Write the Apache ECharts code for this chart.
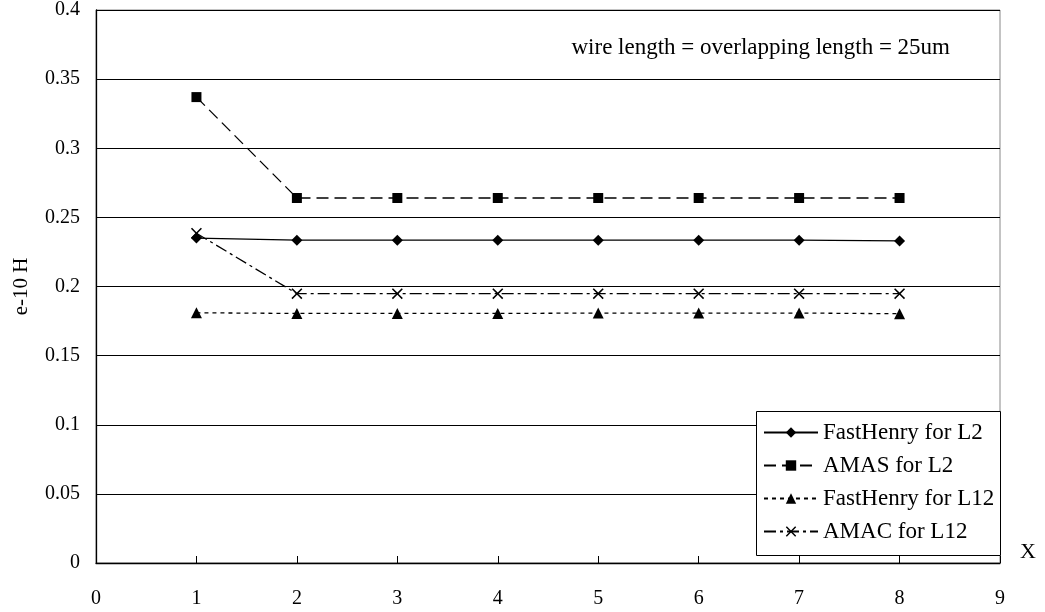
<!DOCTYPE html>
<html>
<head>
<meta charset="utf-8">
<script src="https://cdn.jsdelivr.net/npm/echarts@6/dist/echarts.min.js"></script>
<style>
  html, body { margin: 0; padding: 0; background: #fff; }
  #chart { width: 1045px; height: 612px; }
</style>
</head>
<body>
<div id="chart"></div>
<script>
const xValues = [1, 2, 3, 4, 5, 6, 7, 8]
const fastHenryL2 = [0.235, 0.2335, 0.2335, 0.2335, 0.2335, 0.2335, 0.2335, 0.233]
const amasL2 = [0.337, 0.264, 0.264, 0.264, 0.264, 0.264, 0.264, 0.264]
const fastHenryL12 = [0.181, 0.1805, 0.1805, 0.1805, 0.1808, 0.1808, 0.1808, 0.1803]
const amacL12 = [0.2385, 0.1948, 0.1948, 0.1948, 0.1948, 0.1948, 0.1948, 0.1948]

const font = 'Liberation Serif'
const crossPath = 'path://M0,1L1,0L5,4L9,0L10,1L6,5L10,9L9,10L5,6L1,10L0,9L4,5Z'

function pairs(ys) {
  return xValues.map((x, i) => [x, ys[i]])
}

function makeSeries(name, ys, symbol, size, dash) {
  return {
    name: name,
    type: 'line',
    data: pairs(ys),
    symbol: symbol,
    symbolSize: size,
    itemStyle: { color: '#000' },
    lineStyle: { color: '#000', width: 1.3, type: dash },
    emphasis: { disabled: true },
    animation: false
  }
}

const chart = echarts.init(document.getElementById('chart'))
const option = {
  backgroundColor: '#fff',
  textStyle: { fontFamily: font },
  grid: {
    left: 96,
    right: 45,
    top: 10,
    bottom: 49,
    show: true,
    borderColor: '#888',
    borderWidth: 1
  },
  title: {
    text: 'wire length = overlapping length = 25um',
    right: 95,
    top: 36,
    padding: 0,
    textStyle: { fontFamily: font, fontSize: 23, fontWeight: 'normal', color: '#000' }
  },
  // legend frame
  graphic: [{
    type: 'rect',
    left: 756,
    top: 411,
    shape: { width: 244, height: 144 },
    style: { fill: '#fff', stroke: '#000', lineWidth: 1 },
    z: 5
  }],
  legend: {
    orient: 'vertical',
    left: 763,
    top: 421,
    padding: 0,
    itemGap: 10,
    itemWidth: 54,
    itemHeight: 13,
    z: 10,
    textStyle: { fontFamily: font, fontSize: 23, color: '#000' },
    data: ['FastHenry for L2', 'AMAS for L2', 'FastHenry for L12', 'AMAC for L12']
  },
  xAxis: {
    type: 'value',
    min: 0,
    max: 9,
    interval: 1,
    name: 'X',
    nameLocation: 'end',
    nameGap: 20,
    nameTextStyle: { fontFamily: font, fontSize: 22, color: '#000', verticalAlign: 'bottom' },
    axisLine: { lineStyle: { color: '#000', width: 1.3 } },
    axisTick: { inside: true, length: 7, lineStyle: { color: '#000' } },
    axisLabel: { fontFamily: font, fontSize: 20, color: '#000', margin: 26 },
    splitLine: { show: false }
  },
  yAxis: {
    type: 'value',
    min: 0,
    max: 0.4,
    interval: 0.05,
    name: 'e-10 H',
    nameLocation: 'middle',
    nameRotate: 90,
    nameGap: 64,
    nameTextStyle: { fontFamily: font, fontSize: 21, color: '#000' },
    axisLine: { show: true, lineStyle: { color: '#000', width: 1.3 } },
    axisTick: { show: true, inside: true, length: 7, lineStyle: { color: '#000' } },
    axisLabel: { fontFamily: font, fontSize: 20, color: '#000', margin: 16 },
    splitLine: { show: true, lineStyle: { color: '#000', width: 1 } }
  },
  series: [
    makeSeries('FastHenry for L2', fastHenryL2, 'diamond', 11, 'solid'),
    makeSeries('AMAS for L2', amasL2, 'rect', 10, [12, 6]),
    makeSeries('FastHenry for L12', fastHenryL12, 'triangle', 11, [4, 4]),
    makeSeries('AMAC for L12', amacL12, crossPath, 11, [12, 4, 3, 4])
  ]
}
chart.setOption(option)
</script>
</body>
</html>
